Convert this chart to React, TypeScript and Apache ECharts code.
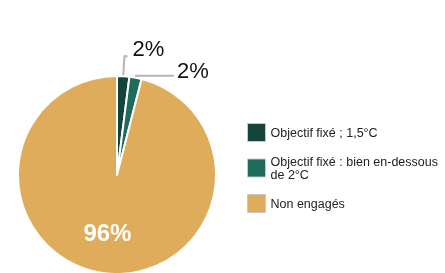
import React, { useEffect, useRef } from "react";
import * as echarts from "echarts";

const categories = ["Objectif fixé ; 1,5°C", "Objectif fixé : bien en-dessous\nde 2°C", "Non engagés"];
const values = [2, 2, 96];
const colors = ["#15443a", "#1e6b5c", "#dfac5b"];

export default function App() {
  const ref = useRef<HTMLDivElement>(null);
  useEffect(() => {
    const chart = echarts.init(ref.current!, null, { renderer: "svg" });
    const data = categories.map((name, i) => {
      const item: any = { name, value: values[i], itemStyle: { color: colors[i] } };
      if (i === 0) {
        item.labelLine = { length: 20, length2: 3 };
      } else if (i === 1) {
        item.labelLine = { length: 2, length2: 38 };
      } else {
        item.label = {
          position: "inside",
          color: "#ffffff",
          fontSize: 24,
          fontWeight: "bold",
          offset: [-3, 5],
        };
      }
      return item;
    });
    chart.setOption({
      animation: false,
      legend: {
        orient: "vertical",
        left: 247,
        top: 123,
        padding: 0,
        itemWidth: 18,
        itemHeight: 18,
        itemGap: 13,
        itemTextGap: 10,
        icon: "rect",
        itemStyle: { borderColor: "#c8c8c8", borderWidth: 1 },
        textStyle: { fontFamily: "Liberation Sans", fontSize: 12.5, color: "#222", lineHeight: 13 },
        selectedMode: false,
      },
      series: [
        {
          type: "pie",
          center: [117, 175],
          radius: 99,
          startAngle: 90,
          clockwise: true,
          avoidLabelOverlap: false,
          itemStyle: { borderColor: "#ffffff", borderWidth: 2 },
          label: {
            show: true,
            formatter: "{d}%",
            fontFamily: "Liberation Sans",
            fontSize: 22,
            color: "#111",
            distanceToLabelLine: 3,
          },
          labelLine: { show: true, lineStyle: { color: "#b4b4b4", width: 2 } },
          labelLayout: (params: any) => {
            if (params.dataIndex === 0) return { dy: -8, dx: 2 };
            if (params.dataIndex === 1) return { dy: -5 };
            return {};
          },
          data,
        },
      ],
    });
    return () => chart.dispose();
  }, []);
  return <div ref={ref} style={{ position: "fixed", left: 0, top: 0, width: 445, height: 273 }} />;
}
